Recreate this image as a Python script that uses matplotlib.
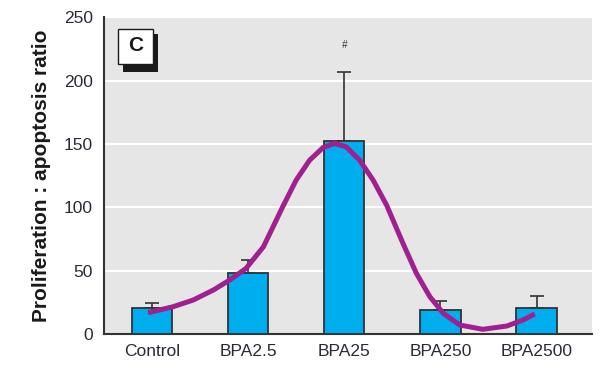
import matplotlib
matplotlib.use("Agg")
import matplotlib.pyplot as plt
from matplotlib.patches import Rectangle

categories = ["Control", "BPA2.5", "BPA25", "BPA250", "BPA2500"]
values = [20.5, 48, 152, 19, 20.5]
err_up = [4, 10.5, 55, 7, 9.5]

# smooth trend curve points (x in category units)
curve_x = [-0.04, 0.22, 0.43, 0.64, 0.81, 0.98, 1.16, 1.36, 1.50, 1.64,
           1.78, 1.90, 2.02, 2.16, 2.30, 2.44, 2.61, 2.75, 2.89, 3.03,
           3.20, 3.44, 3.69, 3.86, 3.98]
curve_y = [17.0, 21.7, 27.0, 34.9, 42.8, 52.0, 69.0, 100.5, 121.5, 137.2,
           147.2, 150.4, 147.7, 137.2, 121.5, 101.8, 71.7, 48.0, 29.6, 16.5,
           7.3, 3.9, 6.5, 11.3, 16.0]

yticks = [0, 50, 100, 150, 200, 250]

plt.rcParams['font.family'] = ['Liberation Sans', 'DejaVu Sans']

fig = plt.figure(figsize=(6.07, 3.71), dpi=100)
ax = fig.add_axes([0.171, 0.099, 0.805, 0.855])
ax.set_facecolor("#e6e6e6")

x = list(range(len(categories)))
ax.bar(x, values, width=0.42, color="#00aeef", edgecolor="#333333",
       linewidth=1.3, zorder=3)
ax.errorbar(x, values, yerr=[[0]*len(values), err_up], fmt="none",
            ecolor="#333333", elinewidth=1.2, capsize=5, capthick=1.2,
            zorder=2)
ax.plot(curve_x, curve_y, color="#a0208f", linewidth=3.6,
        solid_capstyle="butt", solid_joinstyle="round", zorder=4)

ax.text(2, 228, "#", ha="center", va="center", fontsize=7,
        style="italic", color="#333333")

ax.set_xlim(-0.5, 4.58)
ax.set_ylim(0, 250)
ax.set_yticks(yticks)
ax.set_xticks(x)
ax.set_xticklabels(categories)
ax.tick_params(length=0, labelsize=12.5, colors="#2a2a35", pad=7)
ax.tick_params(axis="y", pad=8)
ax.grid(axis="y", color="white", linewidth=1.5, zorder=0)
ax.set_axisbelow(True)
for s in ["top", "right"]:
    ax.spines[s].set_visible(False)
for s in ["left", "bottom"]:
    ax.spines[s].set_color("#333333")
    ax.spines[s].set_linewidth(1.5)

ax.set_ylabel("Proliferation : apoptosis ratio", fontsize=15,
              fontweight="bold", color="#1a1a1a", labelpad=9)

# panel label box with shadow
ax.add_patch(Rectangle((0.0383, 0.827), 0.0727, 0.121, transform=ax.transAxes,
                       facecolor="#1a1a1a", edgecolor="none", zorder=5,
                       clip_on=False))
ax.add_patch(Rectangle((0.0293, 0.8535), 0.0704, 0.110, transform=ax.transAxes,
                       facecolor="white", edgecolor="#1a1a1a", linewidth=1.0,
                       zorder=6, clip_on=False))
ax.text(0.0645, 0.909, "C", transform=ax.transAxes, ha="center", va="center",
        fontsize=15, fontweight="bold", color="#1a1a1a", zorder=7)

fig.savefig("out.png", dpi=100)
